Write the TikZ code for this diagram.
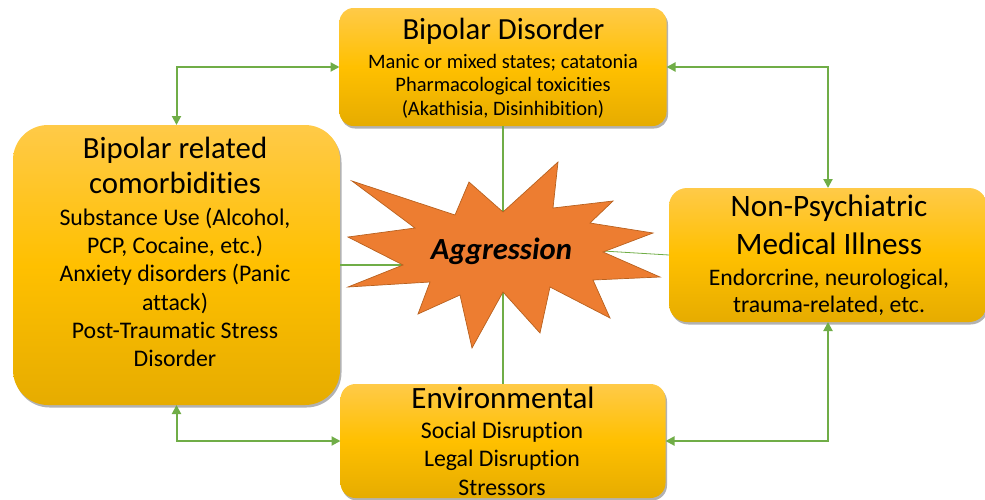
\documentclass[tikz,border=0pt]{standalone}
\usepackage{fontspec}
\setmainfont{Carlito}[Ligatures={NoCommon}]
\usetikzlibrary{arrows.meta,shadows}
\definecolor{grn}{HTML}{70AD47}
\definecolor{gtop}{HTML}{FFCA48}
\definecolor{gmid}{HTML}{FFC000}
\definecolor{gbot}{HTML}{E6AC00}
\definecolor{starfill}{HTML}{ED7D31}
\definecolor{stardraw}{HTML}{B8611F}
\tikzset{
  box/.style={inner sep=0pt, outer sep=0pt, top color=gtop, bottom color=gbot, middle color=gmid,
    drop shadow={shadow xshift=1.5pt, shadow yshift=-2.5pt, opacity=0.3, fill=black}},
  biarrow/.style={draw=grn, line width=2pt, {Triangle[length=9pt,width=9pt]}-{Triangle[length=9pt,width=9pt]}},
  link/.style={draw=grn, line width=1.9pt},
  thinlink/.style={draw=grn, line width=0.8pt},
  tx/.style={anchor=base, inner sep=0pt, text=black},
}
\newcommand{\fsz}[1]{\fontsize{#1}{#1}\selectfont}
\begin{document}
\begin{tikzpicture}[x=1pt,y=-1pt]
\useasboundingbox (0,0) rectangle (985,499);
% boxes
\node[box, rounded corners=14pt, minimum width=327pt, minimum height=118pt] (tb) at (503,67) {};
\node[box, rounded corners=35pt, minimum width=327pt, minimum height=280pt] (lb) at (176.5,265) {};
\node[box, rounded corners=18pt, minimum width=318pt, minimum height=134pt] (rb) at (828,255) {};
\node[box, rounded corners=15pt, minimum width=325pt, minimum height=114pt] (bb) at (503,441) {};
% connectors
\draw[biarrow] (lb.north) |- (tb.west);
\draw[biarrow] (tb.east) -| (rb.north);
\draw[biarrow] (lb.south) |- (bb.west);
\draw[biarrow] (bb.east) -| (rb.south);
\coordinate (sl) at (403,265);
\coordinate (sr) at (603,251);
\draw[link] (tb.south) -- (bb.north);
\draw[link] (lb.east) -- (sl);
\draw[thinlink] (sr) -- (rb.west);
% star
\draw[fill=starfill, draw=stardraw, line width=0.7pt, line join=miter]
  (348,237) -- (415,228) -- (352,181) -- (455,215) -- (469,182) -- (503,212)
  -- (558,162) -- (553,208) -- (613,201) -- (590,223) -- (653,233) -- (603,252)
  -- (660,277) -- (593,280) -- (610,318) -- (550,287) -- (540,333) -- (503,292)
  -- (472,348) -- (460,295) -- (418,314) -- (430,282) -- (348,287) -- (403,265) -- cycle;
\node[tx, font=\fsz{30.7}\bfseries\itshape] (ag) at (501.5,259) {Aggression};
% top box text
\node[tx, font=\fsz{30.7}] (tb1) at (503.5,39.3) {Bipolar Disorder};
\node[tx, font=\fsz{20.5}] (tb2) at (503,68.3) {Manic or mixed states; catatonia};
\node[tx, font=\fsz{20.5}] (tb3) at (503,91.7) {Pharmacological toxicities};
\node[tx, font=\fsz{20.5}] (tb4) at (503,115) {(Akathisia, Disinhibition)};
% left box text
\node[tx, font=\fsz{30.8}] (lb1) at (175,158.3) {Bipolar related};
\node[tx, font=\fsz{30.8}] (lb2) at (175,193.3) {comorbidities};
\node[tx, font=\fsz{23.8}] (lb3) at (175,225) {Substance Use (Alcohol,};
\node[tx, font=\fsz{23.8}] (lb4) at (175,253.3) {PCP, Cocaine, etc.)};
\node[tx, font=\fsz{23.8}] (lb5) at (175,281.7) {Anxiety disorders (Panic};
\node[tx, font=\fsz{23.8}] (lb6) at (175,310) {attack)};
\node[tx, font=\fsz{23.8}] (lb7) at (175,338.3) {Post-Traumatic Stress};
\node[tx, font=\fsz{23.8}] (lb8) at (175,366.7) {Disorder};
% right box text
\node[tx, font=\fsz{31.2}] (rb1) at (829,216.7) {Non-Psychiatric};
\node[tx, font=\fsz{31.2}] (rb2) at (829,254) {Medical Illness};
\node[tx, font=\fsz{23.7}] (rb3) at (829,285.7) {Endorcrine, neurological,};
\node[tx, font=\fsz{23.7}] (rb4) at (829,312) {trauma-related, etc.};
% bottom box text
\node[tx, font=\fsz{31}] (bb1) at (503,408.3) {Environmental};
\node[tx, font=\fsz{23.8}] (bb2) at (502,438.3) {Social Disruption};
\node[tx, font=\fsz{23.8}] (bb3) at (502,466.7) {Legal Disruption};
\node[tx, font=\fsz{23.8}] (bb4) at (502,495) {Stressors};
\end{tikzpicture}
\end{document}
